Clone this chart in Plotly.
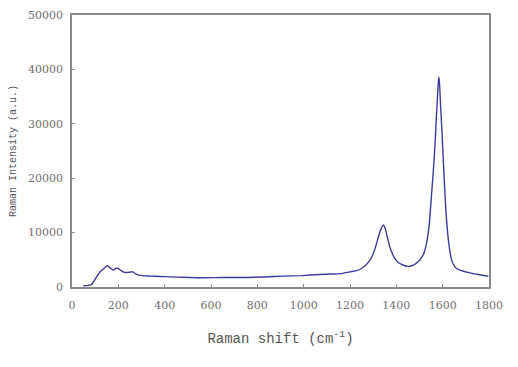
import plotly.graph_objects as go

raman_shift = [49, 70, 85, 99, 110, 121, 135, 152, 165, 178, 190, 200, 215, 229, 245, 262, 275, 286, 310, 337,
               380, 423, 480, 552, 620, 682, 754, 830, 912, 990, 1070, 1120, 1157, 1200, 1229, 1250, 1272, 1286,
               1300, 1312, 1322, 1333, 1344, 1351, 1358, 1365, 1372, 1383, 1394, 1408, 1423, 1437, 1452, 1466,
               1480, 1495, 1509, 1520, 1531, 1542, 1552, 1560, 1567, 1572, 1577, 1581, 1584, 1587, 1591, 1597,
               1603, 1610, 1617, 1628, 1639, 1650, 1660, 1690, 1718, 1760, 1797]
intensity = [240, 300, 480, 1400, 2100, 2790, 3300, 3900, 3500, 3100, 3450, 3400, 2900, 2670, 2700, 2790, 2400,
             2180, 2050, 2000, 1930, 1870, 1780, 1700, 1720, 1760, 1760, 1850, 2000, 2100, 2300, 2380, 2450,
             2790, 3000, 3400, 4200, 4900, 6100, 7600, 9150, 10600, 11400, 10900, 9700, 8500, 7330, 6100, 5200,
             4500, 4150, 3900, 3800, 3900, 4180, 4700, 5400, 6300, 8200, 11500, 17000, 21500, 26100, 30500,
             34500, 37500, 38600, 37000, 33400, 28500, 23100, 17000, 12200, 7500, 4900, 3900, 3400, 2900, 2600,
             2250, 2000]

x_ticks = [0, 200, 400, 600, 800, 1000, 1200, 1400, 1600, 1800]
y_ticks = [0, 10000, 20000, 30000, 40000, 50000]

fig = go.Figure()
fig.add_trace(go.Scatter(x=raman_shift, y=intensity, mode="lines",
                         line=dict(color="#3c3c9c", width=1.4, shape="spline", smoothing=0.6),
                         showlegend=False, hoverinfo="skip"))

axis_common = dict(showgrid=False, zeroline=False, showline=True, linecolor="#8a8a8a", linewidth=1.5,
                   mirror=True, ticks="inside", ticklen=3, tickcolor="#8a8a8a", automargin=False,
                   ticklabeloverflow="allow",
                   tickfont=dict(family="DejaVu Serif", size=11, color="#707070"))

fig.update_xaxes(range=[0, 1800], tickvals=x_ticks, ticktext=[str(v) for v in x_ticks],
                 ticklabelstandoff=7,
                 title=dict(text="Raman shift (cm<sup>-1</sup>)",
                            font=dict(family="Liberation Mono", size=14, color="#555555"), standoff=22),
                 **axis_common)
fig.update_yaxes(range=[0, 50000], tickvals=y_ticks, ticktext=[str(v) for v in y_ticks],
                 ticklabelstandoff=5,
                 title=dict(text="Raman Intensity (a.u.)",
                            font=dict(family="Liberation Mono", size=10, color="#555555"), standoff=14),
                 **axis_common)

fig.update_layout(width=510, height=359, margin=dict(l=64, r=29, t=7, b=80),
                  paper_bgcolor="white", plot_bgcolor="white")

fig.write_html("out.html")
